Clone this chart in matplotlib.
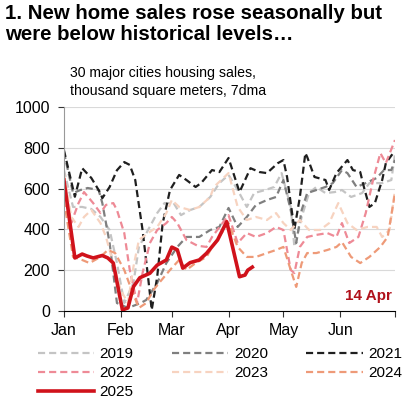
import matplotlib
matplotlib.use("Agg")
import matplotlib.pyplot as plt

# 30 major cities housing sales, thousand sqm, 7dma (day of year, value)
d2019 = [0, 5, 10, 15, 20, 25, 29, 33, 38, 41, 46, 51, 55, 60, 64, 69, 74, 80, 85, 90, 95, 100, 104, 110, 115, 119, 124, 126, 130, 134, 138, 143, 148, 152, 157, 163, 167, 174, 179, 181]
v2019 = [691, 510, 510, 500, 461, 397, 235, 39, 137, 314, 397, 480, 529, 529, 470, 495, 510, 559, 627, 667, 593, 510, 578, 593, 608, 676, 510, 314, 461, 578, 608, 578, 583, 593, 559, 578, 627, 627, 642, 770]

d2020 = [0, 5, 9, 13, 19, 21, 25, 29, 35, 42, 45, 51, 56, 62, 67, 74, 80, 85, 90, 95, 100, 105, 111, 116, 120, 124, 127, 130, 133, 138, 143, 147, 152, 155, 160, 165, 171, 175, 179, 181]
v2020 = [779, 578, 593, 603, 593, 529, 333, 39, 15, 39, 54, 137, 235, 314, 363, 363, 397, 412, 505, 412, 461, 520, 544, 559, 642, 495, 333, 495, 578, 593, 608, 627, 691, 676, 608, 627, 652, 691, 691, 740]

d2021 = [0, 6, 10, 15, 20, 21, 25, 29, 33, 36, 39, 43, 46, 48, 51, 54, 58, 63, 67, 72, 75, 81, 85, 90, 96, 102, 107, 111, 117, 120, 122, 126, 129, 132, 133, 137, 143, 145, 149, 155, 158, 162, 164, 167, 170, 174, 176, 180]
v2021 = [789, 560, 700, 652, 578, 553, 608, 690, 730, 716, 642, 397, 167, 5, 167, 430, 593, 667, 642, 608, 627, 691, 681, 750, 583, 700, 681, 676, 725, 740, 657, 400, 559, 774, 755, 657, 642, 593, 676, 740, 691, 681, 608, 510, 529, 642, 725, 774]

d2022 = [0, 4, 8, 11, 16, 20, 23, 27, 29, 33, 36, 40, 43, 47, 51, 56, 59, 62, 67, 73, 78, 81, 90, 95, 100, 105, 111, 116, 120, 124, 126, 129, 133, 138, 144, 149, 152, 156, 161, 165, 169, 173, 176, 181]
v2022 = [657, 431, 529, 583, 529, 480, 520, 529, 495, 382, 201, 39, 186, 333, 397, 431, 461, 431, 348, 320, 314, 363, 470, 333, 382, 363, 382, 412, 397, 201, 186, 314, 363, 373, 382, 363, 431, 333, 363, 480, 642, 774, 725, 838]

d2023 = [0, 4, 8, 11, 15, 20, 23, 27, 31, 35, 38, 41, 46, 51, 56, 59, 63, 69, 74, 80, 82, 90, 95, 100, 105, 111, 116, 120, 124, 129, 134, 140, 145, 150, 155, 160, 166, 171, 174, 178, 181]
v2023 = [676, 461, 412, 461, 495, 431, 363, 235, 103, 39, 216, 348, 382, 412, 480, 544, 510, 495, 510, 559, 608, 676, 510, 446, 461, 446, 480, 431, 397, 446, 397, 397, 431, 529, 431, 397, 412, 412, 363, 397, 593]

d2024 = [0, 5, 10, 14, 20, 24, 28, 33, 37, 41, 45, 49, 52, 58, 63, 67, 72, 78, 81, 90, 95, 100, 105, 111, 116, 120, 124, 127, 130, 133, 138, 144, 149, 152, 157, 162, 167, 173, 177, 181]
v2024 = [544, 265, 250, 235, 265, 299, 284, 201, 103, 15, 39, 103, 137, 201, 250, 201, 235, 265, 314, 431, 314, 265, 265, 284, 299, 314, 201, 118, 235, 284, 284, 299, 314, 338, 265, 235, 265, 314, 363, 578]

d2025 = [0, 6, 10, 12.5, 16, 21, 24, 27, 32, 35, 38, 41.5, 47, 51, 56, 59, 62, 65, 69, 74, 78, 84, 89, 96, 99, 100.5, 103]
v2025 = [642, 260, 279, 270, 260, 272, 260, 235, 5, 15, 119, 163, 185, 225, 250, 313, 300, 210, 237, 250, 283, 348, 438, 168, 176, 200, 215]

month_pos = [0, 31, 59, 90, 120, 151]
month_lbl = ["Jan", "Feb", "Mar", "Apr", "May", "Jun"]

plt.rcParams['font.family'] = ['Liberation Sans', 'DejaVu Sans']

fig = plt.figure(figsize=(4.07, 3.99), dpi=100)
ax = fig.add_axes([0.157, 0.2206, 0.8135, 0.5112])

dash = (0, (3.2, 1.8))
series = [
    ("2019", d2019, v2019, "#c4c4c4"),
    ("2020", d2020, v2020, "#7f7f7f"),
    ("2021", d2021, v2021, "#1f1f1f"),
    ("2022", d2022, v2022, "#ee8a96"),
    ("2023", d2023, v2023, "#f7d3c0"),
    ("2024", d2024, v2024, "#ee9a78"),
]
lines = {}
for name, d, v, c in series:
    lines[name], = ax.plot(d, v, color=c, linestyle=dash, linewidth=1.6, label=name)
lines["2025"], = ax.plot(d2025, v2025, color="#d0121b", linewidth=2.6, label="2025")

ax.set_xlim(0, 181)
ax.set_ylim(0, 1000)
ax.set_yticks(range(0, 1001, 200))
ax.set_xticks(month_pos + [181])
ax.set_xticklabels(month_lbl + [""])
ax.tick_params(axis='both', labelsize=11.5, length=4, color='#333333')
ax.tick_params(axis='y', pad=6)
ax.tick_params(axis='x', pad=5)
ax.yaxis.grid(True, color='#d9d9d9', linewidth=0.8)
ax.set_axisbelow(True)
for s in ['top', 'right']:
    ax.spines[s].set_visible(False)
ax.spines['left'].set_color('#999999')
ax.spines['bottom'].set_color('#000000')

ax.text(0.99, 0.04, "14 Apr", transform=ax.transAxes, ha='right', va='bottom',
        color='#b0121b', fontsize=11, fontweight='bold')

fig.text(0.012, 0.99, "1. New home sales rose seasonally but\nwere below historical levels\u2026",
         ha='left', va='top', fontsize=14.7, fontweight='bold', linespacing=1.12)
fig.text(0.172, 0.835, "30 major cities housing sales,\nthousand square meters, 7dma",
         ha='left', va='top', fontsize=10.2, linespacing=1.35)

order = ["2019", "2022", "2025", "2020", "2023", "2021", "2024"]
fig.legend([lines[k] for k in order], order, loc='upper left', ncol=3,
           bbox_to_anchor=(0.093, 0.13), frameon=False, fontsize=11,
           handlelength=3.7, handletextpad=0.35, columnspacing=2.5,
           labelspacing=0.33, borderaxespad=0, borderpad=0)

fig.savefig("out.png", dpi=100)
